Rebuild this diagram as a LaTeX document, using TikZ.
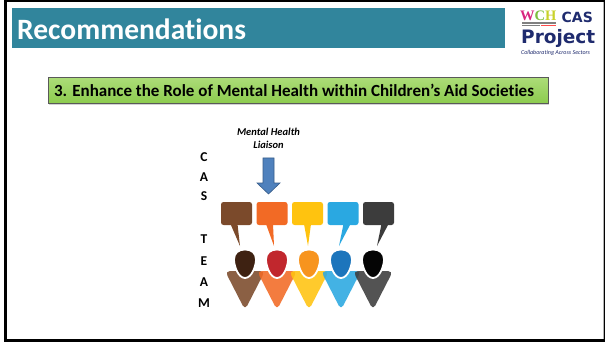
\documentclass[tikz,border=0pt]{standalone}
\usepackage{fontspec}
\setmainfont{Carlito}[Ligatures=NoCommon]
\newfontfamily\logofont{DejaVu Sans}
\newfontfamily\wchfont{Liberation Serif}
\usetikzlibrary{shadows}
\definecolor{titleteal}{HTML}{31859C}
\definecolor{goalgreen}{HTML}{8CCB4E}
\definecolor{goallight}{HTML}{ACDC78}
\definecolor{arrowblue}{HTML}{4F81BD}
\definecolor{arrowedge}{HTML}{385D8A}
\definecolor{navy}{HTML}{1F2B6E}
\definecolor{wchpink}{HTML}{D8257F}
\definecolor{wchgreen}{HTML}{7DBF3F}
\definecolor{wchyellow}{HTML}{C9D22A}
\definecolor{body1}{HTML}{7B4A2B}\definecolor{head1}{HTML}{3E2212}
\definecolor{body2}{HTML}{F26A25}\definecolor{head2}{HTML}{C1272D}
\definecolor{body3}{HTML}{FFC30F}\definecolor{head3}{HTML}{F7941E}
\definecolor{body4}{HTML}{2AA8E1}\definecolor{head4}{HTML}{1C75BC}
\definecolor{body5}{HTML}{3C3C3C}\definecolor{head5}{HTML}{050505}

\begin{document}
\begin{tikzpicture}[x=1pt,y=-1pt,
                    bubble/.style={rounded corners=2.5pt,minimum width=31pt,minimum height=23pt,inner sep=0pt},
                    letter/.style={font=\fontsize{13.5}{13.5}\selectfont\bfseries,inner sep=0pt}]
                    \useasboundingbox(0,0)rectangle(605,342);
                    \fill(4,0)rectangle(605,342);
                    \fill[white](6.5,2.5)rectangle(603,339);
                    \draw[gray!60,line width=.8pt](603.4,2.5)--(603.4,339);
                    \fill[titleteal](12,8)rectangle(505,48);
                    \node[anchor=west,text=white,inner sep=0pt,font=\fontsize{29.5}{29.5}\selectfont\bfseries](title)at(17,29){Recommendations};
                    \node[anchor=west,inner sep=0pt,font=\wchfont\bfseries\fontsize{14.5}{14.5}\selectfont](wch)at(520,16){\textcolor{wchpink}{W}\textcolor{wchgreen}{C}\textcolor{wchyellow}{H}};
                    \node[anchor=west,inner sep=0pt,text=navy,font=\logofont\bfseries\fontsize{14}{14}\selectfont](cas)at(561.5,17){CAS};
                    \node[anchor=west,inner sep=0pt,text=navy,font=\logofont\bfseries\fontsize{18.5}{18.5}\selectfont](project)at(521,38){Project};
                    \node[anchor=west,inner sep=0pt,text=navy,font=\fontsize{6}{6}\selectfont\itshape](tagline)at(521,53){Collaborating Across Sectors};
                    \draw[gray,line width=.5pt](522,22)--(556,22)(522,23.5)--(556,23.5);
                    \draw[gray,line width=.5pt](522,25)--(540,25);
                    \draw[red!70,line width=.5pt](541,25)--(556,25);
                    \node[draw=black!65,line width=.8pt,top color=goallight,bottom color=goalgreen,
                          minimum width=500pt,minimum height=26pt,inner sep=0pt,
                          drop shadow={shadow xshift=1pt,shadow yshift=-2pt,opacity=.35},
                          font=\fontsize{17}{17}\selectfont\bfseries](goal)at(298,90.5){\hspace*{-8pt}3. Enhance the Role of Mental Health within Children’s Aid Societies};
                    \node[align=center,inner sep=0pt,font=\fontsize{10.5}{13}\selectfont\bfseries\itshape](liaison)at(268.5,138.5){Mental Health\\Liaison};
                    \fill[arrowblue,draw=arrowedge,line width=.6pt](263,158)--(274,158)--(274,183)--(280,183)--(268.5,194)--(257,183)--(263,183)--cycle;
                    \node[letter](lC)at(204,157){C};
                    \node[letter](lA)at(204,177){A};
                    \node[letter](lS)at(204,196){S};
                    \node[letter](lT)at(204,239){T};
                    \node[letter](lE)at(204,261){E};
                    \node[letter](lA2)at(204,282){A};
                    \node[letter](lM)at(204,303){M};
                    \foreach \i/\bx/\tb/\tx/\hx in {1/236.5/234/240/245,2/272/269.5/274/277,3/307.5/307.5/308/309,4/343/347/339/341,5/378.5/385/377/373}{
                      \node[bubble,fill=body\i](b\i)at(\bx,213.5){};
                      \coordinate(t\i)at(\tx,246);
                      \fill[body\i](\tb-3.5,224)--(\tb+3.5,224)--(t\i)--cycle;
                      \fill[body\i,fill opacity=.88,rounded corners=5pt](\hx-20,271)--(\hx+20,271)--(\hx,310)--cycle;
                    }
                    \foreach \i/\hx in {1/245,2/277,3/309,4/341,5/373}{
                      \draw[white,line width=1.8pt,fill=head\i,shift={(\hx,263.5)}](0,14.5)..controls(-7,14.5)and(-11,2)..(-11,-4)
                        ..controls(-11,-10.5)and(-6.5,-14)..(0,-14)..controls(6.5,-14)and(11,-10.5)..(11,-4)
                        ..controls(11,2)and(7,14.5)..(0,14.5)--cycle;
                    }
                \end{tikzpicture}
\end{document}
